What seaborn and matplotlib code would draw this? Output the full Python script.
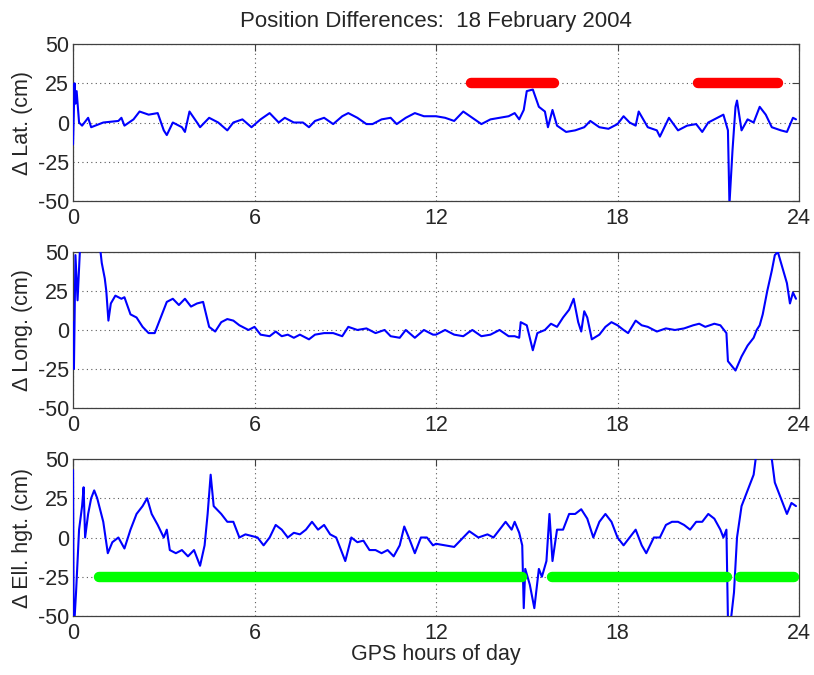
import matplotlib
matplotlib.use("Agg")
import matplotlib.pyplot as plt
import seaborn as sns
import pandas as pd

# ---------------- data ----------------
lat_hours = [0.0, 0.05, 0.08, 0.12, 0.2, 0.3, 0.5, 0.6, 1.0, 1.5, 1.6, 1.7,
             2.0, 2.2, 2.5, 2.8, 3.0, 3.1, 3.3, 3.6, 3.7, 3.85, 4.1, 4.2,
             4.5, 4.8, 5.1, 5.3, 5.6, 5.9, 6.2, 6.5, 6.8, 7.0, 7.3, 7.6,
             7.8, 8.0, 8.3, 8.6, 8.9, 9.1, 9.4, 9.7, 9.9, 10.2, 10.5, 10.7,
             11.0, 11.3, 11.6, 11.9, 12.0, 12.3, 12.6, 12.9, 13.2, 13.5,
             13.8, 14.1, 14.4, 14.6, 14.75, 14.9, 15.0, 15.2, 15.4, 15.6,
             15.7, 15.85, 16.0, 16.3, 16.6, 16.9, 17.1, 17.4, 17.7, 18.0,
             18.2, 18.4, 18.6, 18.7, 19.0, 19.3, 19.4, 19.7, 20.0, 20.3,
             20.6, 20.8, 21.0, 21.3, 21.5, 21.65, 21.7, 21.8, 21.9, 21.95,
             22.1, 22.3, 22.5, 22.7, 22.9, 23.1, 23.4, 23.6, 23.8, 23.9]
lat_cm = [-14, 25, 12, 20, 0, -2, 3, -3, 0, 1, 3, -2,
          2, 7, 5, 6, -5, -8, 0, -3, -6, 7, 0, -3,
          3, 0, -5, 0, 2, -3, 2, 6, 0, 3, 0, 0,
          -3, 1, 3, -1, 4, 6, 3, -1, -1, 2, 3, -1,
          3, 6, 4, 4, 4, 3, 1, 7, 3, -1,
          2, 3, 4, 6, 2, 8, 20, 21, 10, 7,
          -3, 8, -2, -6, -5, -3, 1, -3, -4, -1,
          4, 0, -2, 7, -3, -5, -9, 3, -5, -2,
          -1, -6, 0, 3, 5, -5, -52, -18, 10, 14,
          -5, 2, 0, 10, 5, -3, -5, -6, 3, 2]

long_hours = [0.0, 0.03, 0.08, 0.15, 0.25, 0.85, 0.91, 0.95, 1.05, 1.1, 1.17,
              1.25, 1.4, 1.6, 1.7, 1.9, 2.1, 2.3, 2.5, 2.7, 2.9, 3.1, 3.3,
              3.5, 3.7, 3.9, 4.1, 4.3, 4.5, 4.7, 4.9, 5.1, 5.3, 5.5, 5.8,
              6.0, 6.2, 6.5, 6.7, 6.9, 7.1, 7.3, 7.5, 7.8, 8.0, 8.3, 8.6,
              8.9, 9.1, 9.4, 9.7, 10.0, 10.3, 10.5, 10.8, 11.0, 11.3, 11.6,
              11.9, 12.0, 12.3, 12.6, 12.9, 13.2, 13.5, 13.8, 14.1, 14.4,
              14.6, 14.75, 14.8, 15.0, 15.2, 15.35, 15.6, 15.8, 16.0, 16.2,
              16.4, 16.55, 16.7, 16.8, 16.9, 17.0, 17.15, 17.4, 17.6, 17.8,
              18.0, 18.2, 18.35, 18.6, 18.8, 19.0, 19.3, 19.6, 19.9, 20.2,
              20.5, 20.7, 20.9, 21.2, 21.4, 21.6, 21.65, 21.9, 22.1, 22.3,
              22.5, 22.6, 22.7, 22.8, 22.95, 23.1, 23.2, 23.3, 23.45, 23.6,
              23.7, 23.8, 23.9]
long_cm = [5, -25, 48, 19, 60, 60, 50, 43, 33, 25, 6,
           17, 22, 20, 21, 10, 8, 2, -2, -2, 8, 18, 20,
           16, 20, 15, 17, 18, 2, -1, 5, 7, 6, 3, 0,
           2, -3, -4, -1, -4, -3, -5, -3, -6, -3, -2, -2,
           -4, 2, 0, 1, -2, 0, -4, -5, 0, -5, 0,
           -3, -3, 0, -3, -4, 0, -4, -3, 0, -4,
           -4, -5, 5, 3, -13, -2, 0, 4, 2, 8,
           13, 20, 5, -1, 12, 8, -6, -3, 2, 5,
           3, 0, -2, 6, 3, 2, -1, 1, 0, 1,
           3, 4, 2, 4, 3, -2, -20, -26, -17, -10,
           -5, 0, 3, 10, 25, 38, 48, 50, 40, 30,
           17, 24, 20]

hgt_hours = [0.0, 0.02, 0.05, 0.1, 0.15, 0.2, 0.3, 0.35, 0.4, 0.5, 0.6, 0.7,
             0.8, 1.0, 1.15, 1.3, 1.5, 1.7, 1.9, 2.1, 2.3, 2.45, 2.6, 2.8,
             3.0, 3.1, 3.2, 3.4, 3.6, 3.8, 4.0, 4.2, 4.35, 4.45, 4.55, 4.65,
             4.9, 5.1, 5.3, 5.5, 5.7, 5.9, 6.1, 6.3, 6.5, 6.7, 6.9, 7.1,
             7.3, 7.5, 7.7, 7.9, 8.1, 8.3, 8.5, 8.7, 8.9, 9.0, 9.2, 9.4,
             9.6, 9.8, 10.0, 10.2, 10.4, 10.6, 10.8, 10.95, 11.1, 11.3, 11.5,
             11.7, 11.9, 12.0, 12.3, 12.6, 12.9, 13.1, 13.4, 13.7, 13.9, 14.1,
             14.3, 14.5, 14.6, 14.75, 14.85, 14.9, 14.95, 15.1, 15.25, 15.4,
             15.5, 15.65, 15.75, 15.85, 16.0, 16.2, 16.4, 16.6, 16.8, 17.0,
             17.2, 17.4, 17.6, 17.8, 18.0, 18.2, 18.4, 18.6, 18.8, 18.95,
             19.2, 19.4, 19.6, 19.8, 20.0, 20.2, 20.4, 20.6, 20.8, 21.0,
             21.2, 21.4, 21.5, 21.6, 21.65, 21.75, 21.85, 21.95, 22.1, 22.3,
             22.5, 22.6, 22.9, 23.1, 23.2, 23.4, 23.6, 23.75, 23.9]
hgt_cm = [43, -52, -52, -35, -15, 5, 20, 32, 0, 15, 25, 30,
          25, 10, -10, -3, 0, -7, 5, 15, 20, 25, 15, 8,
          0, 5, -8, -10, -8, -12, -8, -18, -5, 15, 40, 20,
          15, 10, 10, 0, 2, 1, 0, -5, 0, 8, 5, 0,
          3, 2, 5, 10, 5, 8, 2, 0, -10, -15, 0, -3,
          -2, -8, -8, -10, -8, -12, -5, 7, 0, -10, 0,
          0, -5, -4, -5, -6, 0, 4, 0, 2, 0, 5,
          10, 5, 10, 3, -5, -45, -20, -30, -45, -20,
          -25, -15, 15, -15, 5, 5, 15, 15, 18, 12,
          0, 10, 15, 10, 0, -5, 0, 5, -5, -10,
          0, 0, 8, 10, 10, 8, 5, 10, 10, 15,
          12, 5, 0, 5, -52, -52, -35, 0, 20, 30,
          40, 55, 55, 50, 35, 25, 15, 22, 20]

# highlighted intervals (start hour, end hour) and their level
red_starts = [13.15, 20.65]
red_ends = [15.9, 23.3]
red_level = 25
green_starts = [0.85, 15.85, 22.05]
green_ends = [14.85, 21.62, 23.85]
green_level = -25

x_ticks = [0, 6, 12, 18, 24]
y_ticks = [-50, -25, 0, 25, 50]
y_labels = ["\u0394 Lat. (cm)", "\u0394 Long. (cm)", "\u0394 Ell. hgt. (cm)"]
title = "Position Differences:  18 February 2004"
x_label = "GPS hours of day"

# ---------------- figure ----------------
sns.set_style("white")
plt.rcParams["font.family"] = ["Liberation Sans", "DejaVu Sans"]
FS = 15.5

fig = plt.figure(figsize=(8.14, 6.75), dpi=100)
boxes = [
    [0.0897, 0.7022, 0.8919, 0.2326],
    [0.0897, 0.3956, 0.8919, 0.2311],
    [0.0897, 0.0874, 0.8919, 0.2326],
]

series = [
    (lat_hours, lat_cm),
    (long_hours, long_cm),
    (hgt_hours, hgt_cm),
]

axes = []
for i, (box, (hrs, vals)) in enumerate(zip(boxes, series)):
    ax = fig.add_axes(box)
    axes.append(ax)
    df = pd.DataFrame({"hour": hrs, "cm": vals})
    sns.lineplot(data=df, x="hour", y="cm", ax=ax, color="#0000ff",
                 linewidth=1.5, estimator=None, sort=False, zorder=3)

# red bars in the latitude panel
for s, e in zip(red_starts, red_ends):
    seg = pd.DataFrame({"hour": [s, e], "cm": [red_level, red_level]})
    sns.lineplot(data=seg, x="hour", y="cm", ax=axes[0], color="#ff0000",
                 linewidth=7.5, solid_capstyle="round", estimator=None,
                 zorder=4)
# green bars in the height panel
for s, e in zip(green_starts, green_ends):
    seg = pd.DataFrame({"hour": [s, e], "cm": [green_level, green_level]})
    sns.lineplot(data=seg, x="hour", y="cm", ax=axes[2], color="#00ff00",
                 linewidth=7.5, solid_capstyle="round", estimator=None,
                 zorder=4)

for i, ax in enumerate(axes):
    ax.set_xlim(0, 24)
    ax.set_ylim(-50, 50)
    ax.set_xticks(x_ticks)
    ax.set_yticks(y_ticks)
    ax.set_xticklabels([str(t) for t in x_ticks], fontsize=FS)
    ax.set_yticklabels([str(t) for t in y_ticks], fontsize=FS)
    ax.set_xlabel("")
    ax.set_ylabel(y_labels[i], fontsize=FS)
    ax.yaxis.set_label_coords(-0.055, 0.5)
    ax.grid(True, linestyle=(0, (1, 3)), color="0.35", linewidth=0.8)
    ax.tick_params(axis="both", direction="in", top=True, right=True,
                   length=5, width=0.8, color="0.25")
    ax.tick_params(axis="x", pad=5)
    ax.tick_params(axis="y", pad=3)
    for sp in ax.spines.values():
        sp.set_color("0.25")
        sp.set_linewidth(0.9)

axes[0].set_title(title, fontsize=16, pad=12)
axes[2].set_xlabel(x_label, fontsize=FS, labelpad=0)

fig.savefig("out.png", dpi=100)
